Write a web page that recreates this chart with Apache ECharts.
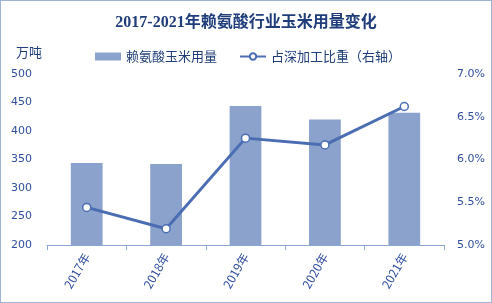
<!DOCTYPE html>
<html><head><meta charset="utf-8">
<script src="https://cdn.jsdelivr.net/npm/echarts@6/dist/echarts.min.js"></script>
<style>
html,body{margin:0;padding:0;background:#fff;}
#c{width:490px;height:301px;border:1px solid #9fb3d9;}
</style></head>
<body><div id="c"></div>
<script>
var categories = ['2017年','2018年','2019年','2020年','2021年'];
var cornUsage = [344, 342, 444, 420, 432];
var shareRatio = [5.44, 5.19, 6.25, 6.17, 6.62];
var leftTicks = [200, 500, 50];
var rightTicks = [5.0, 7.0, 0.5];

var chart = echarts.init(document.getElementById('c'));
var blueText = '#2f4f9f';
chart.setOption({
  animation: false,
  title: {
    text: '2017-2021年赖氨酸行业玉米用量变化',
    left: 'center', top: 9,
    textStyle: {fontFamily: 'Liberation Serif, Noto Sans CJK SC', fontWeight: 'bold', fontSize: 16, color: '#1f3d7a'}
  },
  legend: {
    top: 44, left: 89, itemGap: 22,
    textStyle: {fontFamily: 'Noto Sans CJK SC', fontSize: 13, color: '#1f3d7a'},
    data: [
      {name: '赖氨酸玉米用量', icon: 'rect', itemStyle: {color: '#8aa2cc'}},
      {name: '占深加工比重（右轴）'}
    ],
    itemWidth: 26, itemHeight: 8
  },
  graphic: [{type: 'text', left: 15, top: 45, style: {text: '万吨', font: '13px "Noto Sans CJK SC"', fill: '#1f3d7a'}}],
  grid: {left: 46, right: 47, top: 73, bottom: 57},
  xAxis: {
    type: 'category', data: categories,
    axisLine: {lineStyle: {color: '#8ea6d4'}},
    axisTick: {show: true, length: 5, lineStyle: {color: '#8ea6d4'}},
    axisLabel: {rotate: 60, color: blueText, fontFamily: 'Noto Sans CJK SC', fontSize: 12, margin: 9}
  },
  yAxis: [
    {type: 'value', min: leftTicks[0], max: leftTicks[1], interval: leftTicks[2],
     splitLine: {show: false}, axisLine: {show: false}, axisTick: {show: false},
     axisLabel: {color: blueText, fontFamily: 'Verdana, DejaVu Sans', fontSize: 11, margin: 15}},
    {type: 'value', min: rightTicks[0], max: rightTicks[1], interval: rightTicks[2],
     splitLine: {show: false}, axisLine: {show: false}, axisTick: {show: false},
     axisLabel: {color: blueText, fontFamily: 'Verdana, DejaVu Sans', fontSize: 11, margin: 13,
       formatter: function(v){ return v.toFixed(1) + '%'; }}}
  ],
  series: [
    {name: '赖氨酸玉米用量', type: 'bar', data: cornUsage, barWidth: '40%',
     itemStyle: {color: '#8aa2cc'}},
    {name: '占深加工比重（右轴）', type: 'line', yAxisIndex: 1, data: shareRatio,
     symbol: 'circle', symbolSize: 8,
     lineStyle: {color: '#4a6db3', width: 3},
     itemStyle: {color: '#ffffff', borderColor: '#4a6db3', borderWidth: 1.5}}
  ]
});
</script></body></html>
